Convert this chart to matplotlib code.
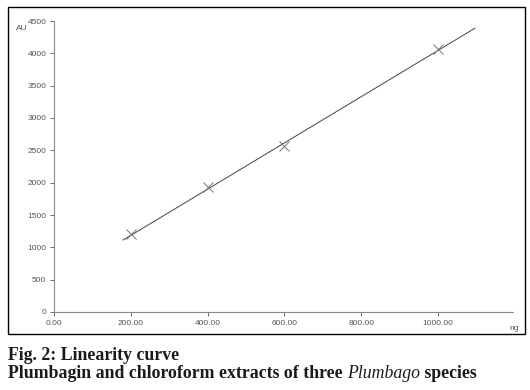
import numpy as np
import matplotlib.pyplot as plt
from matplotlib.patches import Rectangle

# data
amount_ng = [200, 400, 600, 1000]
area_au = [1206, 1932, 2566, 4065]

# calibration line end points
line_x = [180, 1096]
line_y = [1113, 4389]

x_ticks = [0, 200, 400, 600, 800, 1000]
y_ticks = [0, 500, 1000, 1500, 2000, 2500, 3000, 3500, 4000, 4500]

fig = plt.figure(figsize=(5.3, 3.9), dpi=100)
ax = fig.add_axes([54 / 530, 1 - 312 / 390, (513 - 54) / 530, (312 - 21) / 390])

ax.plot(line_x, line_y, color='#444444', lw=0.7)
ax.plot(amount_ng, area_au, 'x', color='#777777', ms=7, mew=0.7)

ax.set_xlim(0, 1195)
ax.set_ylim(0, 4500)
ax.set_xticks(x_ticks)
ax.set_xticklabels([f'{v:.2f}' for v in x_ticks])
ax.set_yticks(y_ticks)
for s in ['top', 'right']:
    ax.spines[s].set_visible(False)
for s in ['left', 'bottom']:
    ax.spines[s].set_color('#888888')
    ax.spines[s].set_linewidth(0.8)
ax.tick_params(labelsize=6, colors='#555555', length=3, width=0.6, pad=2.5)
for lab in ax.get_xticklabels() + ax.get_yticklabels():
    lab.set_family('Liberation Sans')

fig.text(16 / 530, 1 - 29 / 390, 'AU', fontsize=6, color='#555555', family='Liberation Sans', va='center')
fig.text(509 / 530, 1 - 328 / 390, 'ng', fontsize=6, color='#555555', family='Liberation Sans', va='center')

# frame round the chart
fig.patches.append(Rectangle((8 / 530, 1 - 334 / 390), (525 - 8) / 530, (334 - 7) / 390,
                             transform=fig.transFigure, fill=False, ec='black', lw=1))

cap = dict(fontsize=12.8, fontweight='bold', family='Liberation Serif', color='#1a1a1a')
fig.text(8 / 530, 1 - 360 / 390, 'Fig. 2: Linearity curve', **cap)
t1 = fig.text(8 / 530, 1 - 378 / 390, 'Plumbagin and chloroform extracts of three ', **cap)
t2 = fig.text(0, 1 - 378 / 390, 'Plumbago', **cap)
t2.set_style('italic')
t2.set_fontweight('normal')
fig.canvas.draw()
bb = t1.get_window_extent()
x0 = fig.transFigure.inverted().transform((bb.x1, bb.y0))[0]
t2.set_position((x0, 1 - 378 / 390))
bb2 = t2.get_window_extent()
x1 = fig.transFigure.inverted().transform((bb2.x1, bb2.y0))[0]
fig.text(x1, 1 - 378 / 390, ' species', **cap)

fig.savefig('out.png', dpi=100)
